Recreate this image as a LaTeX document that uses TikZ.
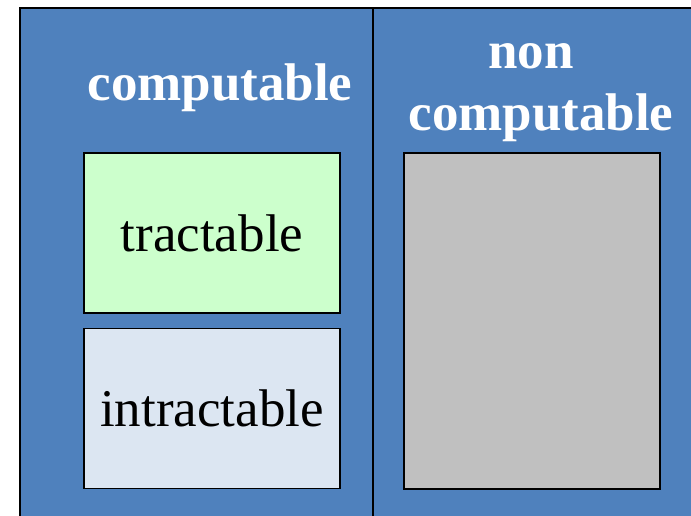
\documentclass[tikz,border=0pt]{standalone}
\usepackage{fontspec}
\setmainfont{Liberation Serif}
\usetikzlibrary{positioning}
\definecolor{classblue}{RGB}{79,129,189}
\definecolor{tractgreen}{RGB}{204,255,204}
\definecolor{intractblue}{RGB}{220,230,242}
\definecolor{noncompgray}{RGB}{192,192,192}

\begin{document}
\begin{tikzpicture}[x=1pt,y=-1pt,
        region/.style={rectangle,draw=black,line width=1.5pt,inner sep=0pt,
          minimum width=256pt,minimum height=160pt,font=\fontsize{53}{63}\selectfont},
        heading/.style={anchor=base,inner sep=0pt,text=white,
          font=\bfseries\fontsize{53}{63}\selectfont},
        frame/.style={line width=1.5pt}]
        \useasboundingbox (0,0) rectangle (691,516);
        % blue background with the two columns
        \fill[classblue] (20,8) rectangle (700,525);
        \draw[frame] (700,8) -- (20,8) -- (20,525);
        \coordinate (splittop) at (373,8);
        \coordinate (splitbot) at (373,525);
        \draw[frame] (splittop) -- (splitbot);
        % column headings
        \node[heading] (comp) at (220,101) {computable};
        \node[heading] (non) at (531,69) {non};
        \node[heading] (noncomp) at (541,131) {computable};
        % classes
        \node[region,fill=tractgreen] (tract) at (212,233) {tractable};
        \node[region,fill=intractblue,below=14pt of tract] (intract) {intractable};
        \node[region,fill=noncompgray,minimum height=336pt] (undec) at (532,321) {};
      \end{tikzpicture}
\end{document}
